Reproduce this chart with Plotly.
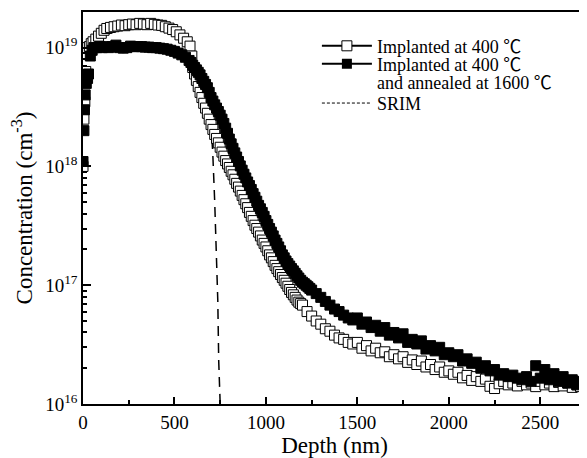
import plotly.graph_objects as go

# Depth (nm) and concentration (cm^-3)
depth_asimpl = [0, 5, 10, 15, 20, 25, 35, 45, 55, 70, 85, 100, 115, 130, 150, 170, 190, 210, 230, 250,
                270, 290, 310, 330, 350, 370, 390, 410, 430, 450, 470, 490, 510, 530, 550, 570, 585, 595,
                600, 610, 620, 630, 640, 650, 660, 670, 680, 690, 700, 710, 720, 730, 740, 750, 760, 770, 780, 790,
                800, 810, 820, 830, 840, 850, 860, 870, 880, 890, 900, 910, 920, 930, 940, 950, 960, 970, 980, 990,
                1000, 1010, 1020, 1030, 1040, 1050, 1060, 1070, 1080, 1090, 1100, 1110, 1120, 1130, 1140, 1150, 1160, 1170, 1180, 1190,
                1200, 1225, 1250, 1275, 1300, 1325, 1350, 1375, 1400, 1425, 1450, 1475,
                1500, 1525, 1550, 1575, 1600, 1625, 1650, 1675, 1700, 1725, 1750, 1775, 1800, 1825, 1850, 1875, 1900, 1925, 1950, 1975,
                2000, 2025, 2050, 2075, 2100, 2125, 2150, 2175, 2200, 2225, 2250, 2275, 2300, 2325, 2350, 2375, 2400, 2425, 2450, 2475,
                2500, 2525, 2550, 2575, 2600, 2625, 2650, 2675, 2700, 2720]
conc_asimpl = [1.0e18, 2.5e18, 3.5e18, 6.3e18, 8.9e18, 1.0e19, 1.02e19, 1.08e19, 1.12e19, 1.18e19, 1.25e19, 1.32e19, 1.4e19, 1.45e19, 1.48e19, 1.5e19, 1.52e19, 1.55e19, 1.53e19, 1.56e19,
               1.58e19, 1.56e19, 1.6e19, 1.58e19, 1.56e19, 1.6e19, 1.57e19, 1.55e19, 1.54e19, 1.5e19, 1.46e19, 1.42e19, 1.36e19, 1.28e19, 1.2e19, 1.12e19, 1.03e19, 8.5e18,
               6.8e18, 6.0e18, 5.3e18, 4.7e18, 4.2e18, 3.8e18, 3.4e18, 3.1e18, 2.8e18, 2.5e18, 2.25e18, 2.05e18, 1.86e18, 1.72e18, 1.58e18, 1.45e18, 1.32e18, 1.22e18, 1.12e18, 1.05e18,
               9.8e17, 9.1e17, 8.5e17, 7.8e17, 7.2e17, 6.7e17, 6.2e17, 5.7e17, 5.25e17, 4.85e17, 4.5e17, 4.1e17, 3.8e17, 3.5e17, 3.2e17, 3.0e17, 2.8e17, 2.6e17, 2.4e17, 2.25e17,
               2.1e17, 1.95e17, 1.8e17, 1.7e17, 1.58e17, 1.47e17, 1.38e17, 1.3e17, 1.23e17, 1.16e17, 1.1e17, 1.04e17, 9.8e16, 9.2e16, 8.7e16, 8.3e16, 7.9e16, 7.5e16, 7.2e16, 7.0e16,
               6.8e16, 6.0e16, 5.5e16, 5.0e16, 4.7e16, 4.3e16, 4.1e16, 3.8e16, 3.6e16, 3.5e16, 3.3e16, 3.2e16,
               3.3e16, 2.95e16, 3.1e16, 2.8e16, 2.95e16, 2.7e16, 2.75e16, 2.5e16, 2.6e16, 2.4e16, 2.5e16, 2.24e16, 2.35e16, 2.15e16, 2.3e16, 2.05e16, 2.15e16, 1.95e16, 2.05e16, 1.85e16,
               1.9e16, 1.78e16, 1.85e16, 1.66e16, 1.74e16, 1.58e16, 1.7e16, 1.55e16, 1.62e16, 1.41e16, 1.35e16, 1.48e16, 1.55e16, 1.45e16, 1.5e16, 1.42e16, 1.55e16, 1.45e16, 1.5e16, 1.4e16,
               1.55e16, 1.45e16, 1.5e16, 1.4e16, 1.52e16, 1.42e16, 1.5e16, 1.38e16, 1.45e16, 1.4e16]

depth_annealed = [0, 5, 8, 12, 18, 25, 30, 40, 50, 60, 75, 90, 105, 120, 140, 160, 180, 200, 220, 240,
                  260, 280, 300, 320, 340, 360, 380, 400, 420, 440, 460, 480, 500, 520, 540, 560,
                  580, 590, 600, 610, 620, 630, 640, 650, 660, 670, 680, 690, 700, 710, 720, 730, 740, 750, 760, 770, 780, 790,
                  800, 810, 820, 830, 840, 850, 860, 870, 880, 890, 900, 910, 920, 930, 940, 950, 960, 970, 980, 990,
                  1000, 1010, 1020, 1030, 1040, 1050, 1060, 1070, 1080, 1090, 1100, 1110, 1120, 1130, 1140, 1150, 1160, 1170, 1180, 1190,
                  1200, 1210, 1220, 1230, 1240, 1250, 1275, 1300, 1325, 1350, 1375, 1400, 1425, 1450, 1475, 1500,
                  1525, 1550, 1575, 1600, 1625, 1650, 1675, 1700, 1725, 1750, 1775, 1800, 1825, 1850, 1875, 1900, 1925, 1950, 1975, 2000,
                  2025, 2050, 2075, 2100, 2125, 2150, 2175, 2200, 2225, 2250, 2275, 2300, 2325, 2350, 2375, 2400, 2425, 2450, 2475, 2500,
                  2525, 2550, 2575, 2600, 2625, 2650, 2675, 2700, 2720]
conc_annealed = [1.1e18, 2.0e18, 3.0e18, 4.0e18, 5.0e18, 5.5e18, 6.0e18, 8.5e18, 9.5e18, 1.0e19, 1.0e19, 1.02e19, 1.0e19, 1.02e19, 1.0e19, 1.02e19, 1.05e19, 1.0e19, 9.9e18, 1.0e19,
                 1.03e19, 1.02e19, 1.02e19, 1.02e19, 1.01e19, 1.01e19, 1.0e19, 1.0e19, 9.9e18, 9.8e18, 9.7e18, 9.5e18, 9.3e18, 9.0e18, 8.7e18, 8.3e18,
                 7.8e18, 7.5e18, 7.1e18, 6.8e18, 6.5e18, 6.2e18, 5.9e18, 5.5e18, 5.2e18, 4.9e18, 4.6e18, 4.2e18, 3.8e18, 3.55e18, 3.3e18, 3.1e18, 2.9e18, 2.7e18, 2.5e18, 2.3e18, 2.1e18, 1.9e18,
                 1.7e18, 1.55e18, 1.42e18, 1.3e18, 1.2e18, 1.1e18, 1.01e18, 9.3e17, 8.6e17, 8.0e17, 7.4e17, 6.9e17, 6.4e17, 5.9e17, 5.5e17, 5.1e17, 4.7e17, 4.4e17, 4.1e17, 3.8e17,
                 3.5e17, 3.25e17, 3.0e17, 2.8e17, 2.6e17, 2.4e17, 2.25e17, 2.1e17, 1.95e17, 1.8e17, 1.7e17, 1.6e17, 1.52e17, 1.45e17, 1.38e17, 1.32e17, 1.26e17, 1.2e17, 1.15e17, 1.1e17,
                 1.06e17, 1.03e17, 1.0e17, 9.7e16, 9.4e16, 9.1e16, 8.5e16, 7.9e16, 7.3e16, 6.8e16, 6.3e16, 6.0e16, 5.6e16, 5.3e16, 5.1e16, 5.3e16,
                 4.7e16, 4.9e16, 4.4e16, 4.6e16, 4.1e16, 4.4e16, 3.8e16, 4.0e16, 3.6e16, 3.9e16, 3.3e16, 3.5e16, 3.2e16, 3.4e16, 2.9e16, 3.1e16, 2.8e16, 3.0e16, 2.6e16, 2.7e16,
                 2.5e16, 2.6e16, 2.3e16, 2.4e16, 2.2e16, 2.25e16, 2.0e16, 2.1e16, 1.9e16, 1.95e16, 1.75e16, 1.8e16, 1.7e16, 1.75e16, 1.65e16, 1.6e16, 1.7e16, 1.55e16, 2.1e16, 1.65e16,
                 1.95e16, 1.6e16, 1.8e16, 1.55e16, 1.7e16, 1.5e16, 1.6e16, 1.45e16, 1.55e16]

depth_srim = [50, 100, 200, 300, 400, 500, 580, 620, 650, 680, 700, 709, 720, 731, 737, 742, 748, 750]
conc_srim = [1.1e19, 1.25e19, 1.4e19, 1.45e19, 1.45e19, 1.35e19, 1.15e19, 7.0e18, 4.5e18, 3.0e18, 2.1e18, 1.35e18, 5.1e17, 1.6e17, 7.4e16, 2.3e16, 1.07e16, 1.0e16]

label_asimpl = "Implanted at 400 ℃"
label_annealed = "Implanted at 400 ℃"
label_annealed_2 = "and annealed at 1600 ℃"
label_srim = "SRIM"

y_tickvals = [1e16, 1e17, 1e18, 1e19]
y_ticktext = ["10<sup>16</sup>", "10<sup>17</sup>", "10<sup>18</sup>", "10<sup>19</sup>"]
y_minor = [m * d for d in [1e16, 1e17, 1e18] for m in range(2, 10)] + [2e19]
x_tickvals = [0, 500, 1000, 1500, 2000, 2500]
x_minor = [250, 750, 1250, 1750, 2250]

font_family = "Liberation Serif, Noto Sans CJK SC, serif"

fig = go.Figure()

# SRIM profile, mostly hidden under the measured points
fig.add_trace(go.Scatter(x=depth_srim, y=conc_srim, mode="lines", showlegend=False,
                         line=dict(color="black", width=1.5, dash="10px,7px")))
fig.add_trace(go.Scatter(x=depth_asimpl, y=conc_asimpl, mode="markers", showlegend=False,
                         marker=dict(symbol="square", size=10, color="white",
                                     line=dict(color="black", width=1))))
fig.add_trace(go.Scatter(x=depth_annealed, y=conc_annealed, mode="markers", showlegend=False,
                         marker=dict(symbol="square", size=10, color="black",
                                     line=dict(color="black", width=1))))

# legend-only entries (line + marker as in the original key), one legend per row
fig.add_trace(go.Scatter(x=[None], y=[None], mode="lines+markers", name=label_asimpl, legend="legend",
                         line=dict(color="black", width=2),
                         marker=dict(symbol="square", size=10, color="white",
                                     line=dict(color="black", width=1))))
fig.add_trace(go.Scatter(x=[None], y=[None], mode="lines+markers", name=label_annealed, legend="legend2",
                         line=dict(color="black", width=2),
                         marker=dict(symbol="square", size=10, color="black")))
fig.add_trace(go.Scatter(x=[None], y=[None], mode="lines", name=label_annealed_2, legend="legend3",
                         line=dict(color="rgba(0,0,0,0)", width=0)))
fig.add_trace(go.Scatter(x=[None], y=[None], mode="lines", name=label_srim, legend="legend4",
                         line=dict(color="black", width=1, dash="3px,2px")))

leg = dict(x=0.465, xanchor="left", yanchor="middle", bgcolor="rgba(0,0,0,0)",
           font=dict(size=18), itemwidth=50)

# page body keeps an 8px margin, so the figure is 8px smaller and margins shifted
fig.update_layout(
    width=579, height=450,
    margin=dict(l=75, r=1, t=4, b=54, autoexpand=False),
    plot_bgcolor="white", paper_bgcolor="white",
    font=dict(family=font_family, size=19, color="black"),
    legend=dict(leg, y=0.913),
    legend2=dict(leg, y=0.867),
    legend3=dict(leg, y=0.821),
    legend4=dict(leg, y=0.767),
)
fig.update_xaxes(
    range=[0, 2750], tickvals=x_tickvals, automargin=False,
    ticks="inside", ticklen=7, tickwidth=1.5, tickcolor="black",
    minor=dict(tickvals=x_minor, ticks="inside", ticklen=4, tickwidth=1.5, tickcolor="black"),
    showline=True, linewidth=1.5, linecolor="black", mirror=True,
    showgrid=False, zeroline=False,
    title=dict(text="Depth (nm)", standoff=2),
)
fig.update_yaxes(
    type="log", range=[16, 19.3], automargin=False,
    tickvals=y_tickvals, ticktext=y_ticktext,
    ticks="inside", ticklen=8, tickwidth=1.5, tickcolor="black",
    minor=dict(tickvals=y_minor, ticks="inside", ticklen=4, tickwidth=1.5, tickcolor="black"),
    showline=True, linewidth=1.5, linecolor="black", mirror=True,
    showgrid=False, zeroline=False,
    title=dict(text="Concentration (cm<sup>-3</sup>)", standoff=8),
)

fig.write_html("out.html")
